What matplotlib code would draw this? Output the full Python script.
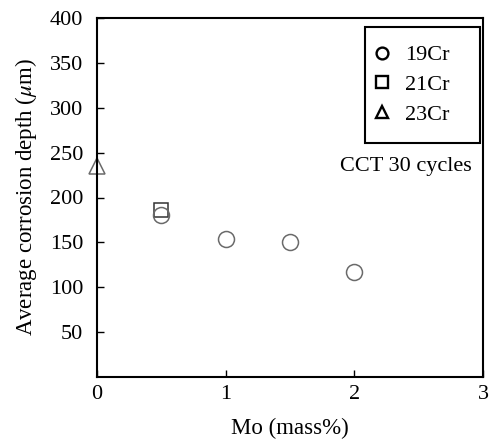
import matplotlib.pyplot as plt
from matplotlib.lines import Line2D
from matplotlib.patches import Rectangle

plt.rcParams['font.family'] = ['Liberation Serif', 'DejaVu Serif']
plt.rcParams['mathtext.fontset'] = 'stix'

# 19Cr series
mo_19cr = [0.5, 1.0, 1.5, 2.0]
depth_19cr = [180, 154, 150, 117]
# 21Cr series
mo_21cr = [0.5]
depth_21cr = [186]
# 23Cr series
mo_23cr = [0.0]
depth_23cr = [235]

fig = plt.figure(figsize=(4.91, 4.41), dpi=100)
ax = fig.add_axes([97 / 491, 64 / 441, 386 / 491, 359 / 441])

gray = '#6a6a6a'
ax.plot(mo_23cr, depth_23cr, linestyle='none', marker='^', markersize=11,
        markerfacecolor='none', markeredgecolor=gray, markeredgewidth=1.1, clip_on=False)
ax.plot(mo_21cr, depth_21cr, linestyle='none', marker='s', markersize=10.5,
        markerfacecolor='none', markeredgecolor='#333333', markeredgewidth=1.1)
ax.plot(mo_19cr, depth_19cr, linestyle='none', marker='o', markersize=11.5,
        markerfacecolor='none', markeredgecolor=gray, markeredgewidth=1.1)

ax.set_xlim(0, 3)
ax.set_ylim(0, 400)
ax.set_xticks([0, 1, 2, 3])
ax.set_yticks(range(50, 401, 50))
ax.tick_params(direction='in', length=5, width=1, labelsize=16)
ax.tick_params(axis='y', pad=10)
ax.tick_params(axis='x', pad=6)
for s in ax.spines.values():
    s.set_linewidth(1.5)

ax.set_xlabel('Mo (mass%)', fontsize=16.5, labelpad=10)
ax.set_ylabel(r'Average corrosion depth ($\mu$m)', fontsize=16.5, labelpad=8)

# legend frame drawn separately (more room on the right than matplotlib gives)
ax.add_patch(Rectangle((0.694, 0.652), 0.298, 0.323, transform=ax.transAxes,
                       fill=False, edgecolor='black', linewidth=1.5, zorder=5))

handles = [
    Line2D([], [], linestyle='none', marker='o', markersize=8.5, markerfacecolor='none',
           markeredgecolor='black', markeredgewidth=1.7),
    Line2D([], [], linestyle='none', marker='s', markersize=8.5, markerfacecolor='none',
           markeredgecolor='black', markeredgewidth=1.7),
    Line2D([], [], linestyle='none', marker='^', markersize=8.5, markerfacecolor='none',
           markeredgecolor='black', markeredgewidth=1.7),
]
leg = ax.legend(handles, ['19Cr', '21Cr', '23Cr'], loc='upper left',
                bbox_to_anchor=(0.694, 0.947), borderaxespad=0, frameon=False,
                fontsize=16, handlelength=0.8, handletextpad=0.65,
                labelspacing=0.42, borderpad=0.35)

ax.text(0.971, 0.585, 'CCT 30 cycles', transform=ax.transAxes, ha='right',
        va='center', fontsize=16)

plt.savefig('out.png', dpi=100)
